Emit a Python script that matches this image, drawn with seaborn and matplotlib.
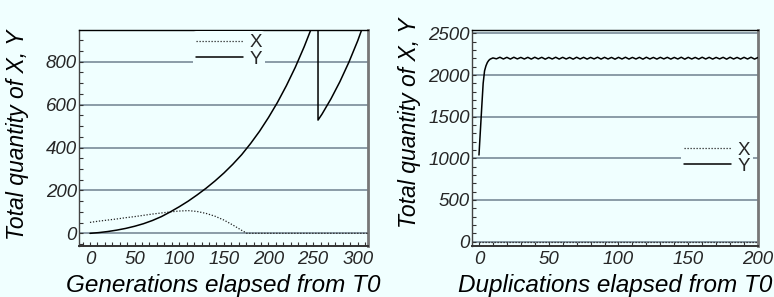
import matplotlib
matplotlib.use("Agg")
import numpy as np
import pandas as pd
import seaborn as sns
import matplotlib.pyplot as plt
from matplotlib.ticker import MultipleLocator

# ---------------- data ----------------
# Left panel: generations
gen_X_x = [0, 10, 20, 30, 40, 50, 60, 70, 80, 90, 100, 110, 120, 130, 140, 150,
           160, 170, 176, 200, 250, 312]
gen_X_y = [51, 57, 62, 67, 73, 78, 84, 90, 95, 100, 104, 106, 102, 93, 80, 62,
           39, 14, 0, 0, 0, 0]

gen_Y_x = [0, 10, 20, 30, 40, 50, 60, 70, 80, 90, 100, 110, 120, 130, 140, 150,
           160, 170, 180, 190, 200, 210, 220, 230, 240, 250, 255.5,
           255.5, 260, 270, 280, 290, 300, 310]
gen_Y_y = [0, 3.5, 8.5, 15, 23, 33, 45, 60, 78, 100, 124, 150, 179, 210, 244, 281,
           322, 367, 419, 476, 540, 610, 688, 774, 870, 976, 1039,
           528, 556, 627, 707, 797, 898, 1013]

# Right panel: duplications
dup_X_x = [0, 200]
dup_X_y = [0, 0]

dup_Y_x = [0, 1, 2, 3, 4, 5, 6, 7, 8, 10,
           12.5, 15, 17.5, 20, 22.5, 25, 27.5, 30, 32.5, 35, 37.5, 40,
           42.5, 45, 47.5, 50, 52.5, 55, 57.5, 60, 62.5, 65, 67.5, 70,
           72.5, 75, 77.5, 80, 82.5, 85, 87.5, 90, 92.5, 95, 97.5, 100,
           102.5, 105, 107.5, 110, 112.5, 115, 117.5, 120, 122.5, 125, 127.5, 130,
           132.5, 135, 137.5, 140, 142.5, 145, 147.5, 150, 152.5, 155, 157.5, 160,
           162.5, 165, 167.5, 170, 172.5, 175, 177.5, 180, 182.5, 185, 187.5, 190,
           192.5, 195, 197.5, 200]
dup_Y_y = [1040, 1330, 1620, 1900, 2050, 2110, 2150, 2175, 2190, 2205,
           2194, 2213, 2192, 2212, 2191, 2213, 2193, 2211, 2192, 2212, 2191, 2213,
           2193, 2212, 2190, 2211, 2192, 2213, 2191, 2212, 2192, 2211, 2190, 2213,
           2192, 2212, 2191, 2211, 2193, 2213, 2191, 2212, 2192, 2211, 2190, 2212,
           2192, 2213, 2191, 2211, 2192, 2212, 2190, 2213, 2192, 2211, 2191, 2212,
           2193, 2212, 2191, 2211, 2192, 2213, 2190, 2212, 2192, 2211, 2191, 2213,
           2192, 2212, 2191, 2211, 2193, 2212, 2190, 2213, 2192, 2211, 2191, 2212,
           2192, 2213, 2191, 2210]

left_yticks = [0, 200, 400, 600, 800]
left_xticks = [0, 50, 100, 150, 200, 250, 300]
right_yticks = [0, 500, 1000, 1500, 2000, 2500]
right_xticks = [0, 50, 100, 150, 200]

series_names = ["X", "Y"]

# ---------------- style ----------------
BG = "#f0ffff"
GRID = "#7a8b98"
sns.set_theme(style="white")
plt.rcParams["font.family"] = ["Liberation Sans", "DejaVu Sans"]
plt.rcParams["font.style"] = "italic"

fig = plt.figure(figsize=(7.74, 2.97), dpi=100, facecolor=BG)
axL = fig.add_axes([79 / 774, 1 - 246 / 297, (368 - 79) / 774, 216 / 297])
axR = fig.add_axes([472 / 774, 1 - 246 / 297, (758 - 472) / 774, 216 / 297])

dotted = (0, (1, 1.4))


def draw(ax, xx, xy, yx, yy):
    dfX = pd.DataFrame({"x": xx, "v": xy})
    dfY = pd.DataFrame({"x": yx, "v": yy})
    sns.lineplot(data=dfX, x="x", y="v", ax=ax, color="#222222", lw=0.9,
                 linestyle=dotted, estimator=None, sort=False,
                 label=series_names[0], zorder=3)
    sns.lineplot(data=dfY, x="x", y="v", ax=ax, color="black", lw=1.1,
                 estimator=None, sort=False, label=series_names[1], zorder=3)


draw(axL, gen_X_x, gen_X_y, gen_Y_x, gen_Y_y)
draw(axR, dup_X_x, dup_X_y, dup_Y_x, dup_Y_y)

axL.set_xlim(-12.3, 311.5)
axL.set_ylim(-59, 948)
axL.set_xticks(left_xticks)
axL.set_yticks(left_yticks)
axL.xaxis.set_minor_locator(MultipleLocator(50 / 6))
axL.yaxis.set_minor_locator(MultipleLocator(50))

axR.set_xlim(-5, 200)
axR.set_ylim(-52, 2540)
axR.set_xticks(right_xticks)
axR.set_yticks(right_yticks)
axR.xaxis.set_minor_locator(MultipleLocator(10))
axR.yaxis.set_minor_locator(MultipleLocator(100))

for ax, xl, ly, lloc in [
    (axL, "Generations elapsed from T0", 0.514, (0.519, 0.903)),
    (axR, "Duplications elapsed from T0", 0.57, (0.856, 0.406)),
]:
    ax.set_facecolor(BG)
    ax.yaxis.grid(True, which="major", color=GRID, lw=1.2, zorder=1)
    ax.xaxis.grid(False)
    ax.set_axisbelow(True)
    ax.tick_params(axis="both", which="both", direction="in", length=3,
                   width=0.8, color="#333333", labelsize=13.5,
                   bottom=True, left=True, top=False, right=False)
    ax.tick_params(axis="y", pad=1.5)
    ax.tick_params(axis="x", pad=3.5)
    ax.set_xlabel(xl, fontsize=17.5, color="black")
    ax.set_ylabel("Total quantity of X, Y", fontsize=16.5, color="black")
    ax.xaxis.set_label_coords(0.5, -0.13)
    ax.yaxis.set_label_coords(-0.172 if ax is axL else -0.178, ly)
    ax.spines["top"].set_color("black")
    ax.spines["top"].set_linewidth(1.0)
    ax.spines["left"].set_color("#444444")
    ax.spines["left"].set_linewidth(1.0)
    ax.spines["bottom"].set_color("#333333")
    ax.spines["bottom"].set_linewidth(1.4)
    ax.spines["right"].set_color("#777777")
    ax.spines["right"].set_linewidth(2.0)
    for s in ax.spines.values():
        s.set_visible(True)
    leg = ax.legend(loc="center", bbox_to_anchor=lloc, frameon=True,
                    facecolor=BG, edgecolor=BG, framealpha=1,
                    prop={"style": "normal", "size": 13.5},
                    handlelength=2.5, handletextpad=0.35, labelspacing=-0.05,
                    borderpad=0.15, borderaxespad=0)
    leg.get_frame().set_linewidth(0)

fig.savefig("out.png", dpi=100, facecolor=BG)
